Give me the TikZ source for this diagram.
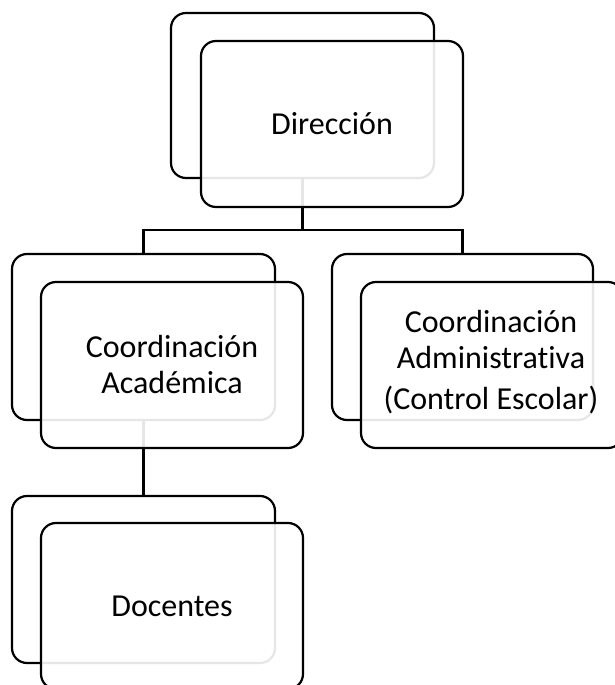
\documentclass[tikz,border=0pt]{standalone}
\usepackage{fontspec}
\setmainfont{Carlito}[Ligatures=NoCommon]
\usetikzlibrary{calc}
\begin{document}
\begin{tikzpicture}[x=1pt,y=-1pt,
  backbox/.style={draw=black, line width=2.2pt, rounded corners=15pt, fill=white, inner sep=0pt},
  frontbox/.style={draw=black, line width=2.2pt, rounded corners=15pt, fill=white, fill opacity=0.9, text opacity=1, inner sep=0pt, align=center, font=\fontsize{32}{36}\selectfont},
  conn/.style={draw=black, line width=2.2pt}]
\useasboundingbox (0,0) rectangle (615,685);
\clip (0,0) rectangle (615,685);
% back boxes
\node[backbox, minimum width=263pt, minimum height=165pt] (dirB) at (302.5,95.5) {};
\node[backbox, minimum width=263pt, minimum height=166pt] (caB) at (143.5,337) {};
\node[backbox, minimum width=261pt, minimum height=166pt] (cadB) at (462.5,337) {};
\node[backbox, minimum width=263pt, minimum height=167pt] (docB) at (143.5,579.5) {};
% connectors
\coordinate (j) at (302.5,230);
\draw[conn] (dirB.south) -- (j);
\draw[conn] (caB.north) |- (j) -| (cadB.north);
\draw[conn] (caB.south) -- (docB.north);
% front boxes
\node[frontbox, minimum width=262pt, minimum height=166pt] (dirF) at (332,124) {Dirección};
\node[frontbox, minimum width=262pt, minimum height=166pt] (caF) at (172,365) {Coordinación\\Académica};
\node[frontbox, minimum width=262pt, minimum height=166pt, text height=0pt] (cadF) at (492,365) {};
\node[font=\fontsize{32}{36}\selectfont, align=center, inner sep=0pt] (cadT) at (491,362) {Coordinación\\Administrativa\\[5pt](Control Escolar)};
\node[frontbox, minimum width=262pt, minimum height=166pt] (docF) at (172,606) {Docentes};
\end{tikzpicture}
\end{document}
